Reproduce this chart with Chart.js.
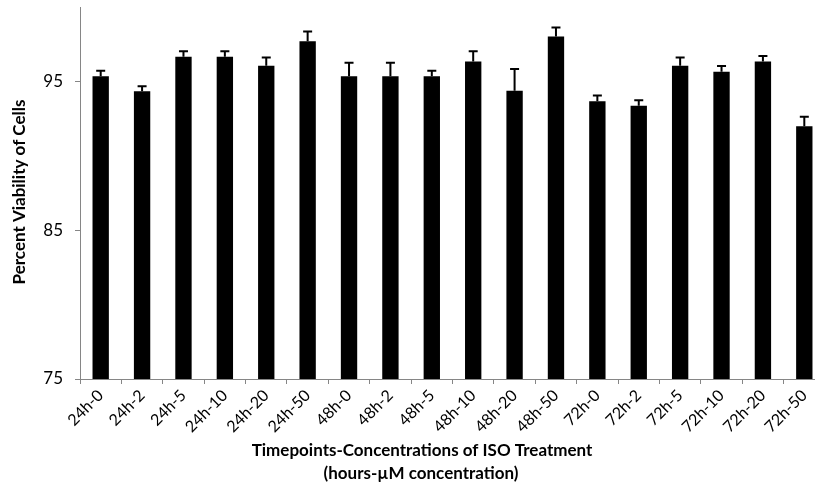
<!DOCTYPE html>
<html>
<head>
<meta charset="utf-8">
<script src="https://cdn.jsdelivr.net/npm/chart.js@4.4.1/dist/chart.umd.min.js"></script>
<style>
  html, body { margin: 0; padding: 0; background: #fff; }
  #wrap { width: 815px; height: 487px; overflow: hidden; position: relative; }
  canvas { display: block; }
</style>
</head>
<body>
<div id="wrap"><canvas id="chart" width="832" height="487"></canvas></div>
<script>
// Cell viability after ISO treatment (timepoint - concentration)
const categories = [
  '24h-0', '24h-2', '24h-5', '24h-10', '24h-20', '24h-50',
  '48h-0', '48h-2', '48h-5', '48h-10', '48h-20', '48h-50',
  '72h-0', '72h-2', '72h-5', '72h-10', '72h-20', '72h-50'
];
const viability = [
  95.35, 94.34, 96.65, 96.65, 96.05, 97.70,
  95.35, 95.35, 95.35, 96.34, 94.37, 98.02,
  93.67, 93.36, 96.05, 95.65, 96.34, 91.99
];
const errorUp = [
  0.36, 0.34, 0.38, 0.38, 0.56, 0.65,
  0.90, 0.90, 0.36, 0.69, 1.46, 0.60,
  0.38, 0.38, 0.56, 0.38, 0.36, 0.63
];
const yTicks = [75, 85, 95];
const yMin = 75, yMax = 100;
const xTitle = ['Timepoints-Concentrations of ISO Treatment', '(hours-\u00B5M concentration)'];
const yTitle = 'Percent Viability of Cells';

const FONT = 'Lato, "Open Sans", sans-serif';
const AXIS_GREY = '#868686';

// Upper error bars drawn on top of each bar
const errorBars = {
  id: 'errorBars',
  afterDatasetsDraw(chart) {
    const ctx = chart.ctx;
    const y = chart.scales.y;
    const meta = chart.getDatasetMeta(0);
    ctx.save();
    ctx.strokeStyle = '#000';
    ctx.lineWidth = 2;
    meta.data.forEach((bar, i) => {
      const top = y.getPixelForValue(viability[i]);
      const end = y.getPixelForValue(viability[i] + errorUp[i]);
      ctx.beginPath();
      ctx.moveTo(bar.x, top);
      ctx.lineTo(bar.x, end);
      ctx.moveTo(bar.x - 4.5, end);
      ctx.lineTo(bar.x + 4.5, end);
      ctx.stroke();
    });
    ctx.restore();
  }
};

// Axis titles
const axisTitles = {
  id: 'axisTitles',
  afterDraw(chart) {
    const ctx = chart.ctx;
    ctx.save();
    ctx.fillStyle = '#000';
    ctx.font = 'bold 17px ' + FONT;
    ctx.textAlign = 'center';
    ctx.textBaseline = 'middle';
    ctx.fillText(xTitle[0], 422, 451);
    ctx.fillText(xTitle[1], 421, 474);
    ctx.translate(20, 192);
    ctx.rotate(-Math.PI / 2);
    ctx.fillText(yTitle, 0, 0);
    ctx.restore();
  }
};

new Chart(document.getElementById('chart'), {
  type: 'bar',
  data: {
    labels: categories,
    datasets: [{
      data: viability,
      backgroundColor: '#000',
      borderWidth: 0,
      barPercentage: 0.79,
      categoryPercentage: 0.5
    }]
  },
  options: {
    responsive: false,
    animation: false,
    layout: { padding: { left: 0, right: 7, top: 7, bottom: 0 } },
    plugins: { legend: { display: false }, tooltip: { enabled: false } },
    scales: {
      x: {
        offset: true,
        grid: {
          display: true, drawOnChartArea: false, drawTicks: true,
          offset: true, tickLength: 5, color: AXIS_GREY, lineWidth: 1
        },
        border: { display: true, color: AXIS_GREY, width: 1 },
        ticks: {
          minRotation: 45, maxRotation: 45, autoSkip: false,
          padding: 2, color: '#000', font: { family: FONT, size: 16 }
        },
        afterFit(scale) { scale.height = 108; scale.paddingLeft = 0; scale.paddingRight = 0; }
      },
      y: {
        min: yMin, max: yMax,
        grid: {
          display: true, drawOnChartArea: false, drawTicks: true,
          tickLength: 5, color: AXIS_GREY, lineWidth: 1
        },
        border: { display: true, color: AXIS_GREY, width: 1 },
        ticks: {
          stepSize: 10, padding: 12, color: '#000',
          font: { family: FONT, size: 17 }
        },
        afterBuildTicks(scale) {
          scale.ticks = yTicks.map(v => ({ value: v }));
        },
        afterFit(scale) { scale.width = 80; scale.paddingTop = 0; scale.paddingBottom = 0; }
      }
    }
  },
  plugins: [errorBars, axisTitles]
});
</script>
</body>
</html>
